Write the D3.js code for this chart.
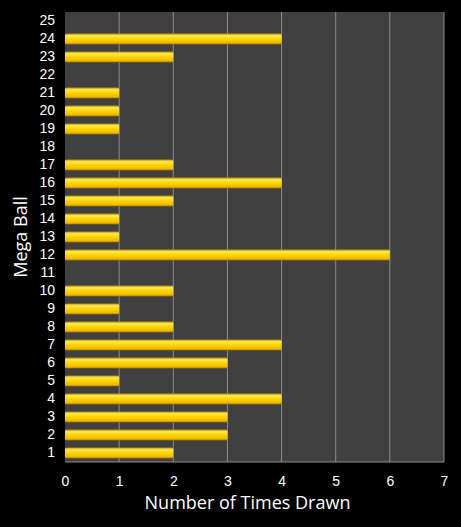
<!DOCTYPE html>
<html>
<head>
  <script src="https://d3js.org/d3.v7.min.js"></script>
  <style>
    body { margin: 0; background: #000; font-family: "Open Sans", sans-serif; }
    .tick text { fill: #fff; font-size: 14px; }
    .axis-title { fill: #fff; font-size: 18px; text-anchor: middle; }
  </style>
</head>
<body>
  <div id="chart"></div>
  <script>
    const balls = d3.range(1, 26).map(String);
    const timesDrawn = [2, 3, 3, 4, 1, 3, 4, 2, 1, 2, 0, 6, 1, 1, 2, 4, 2, 0, 1, 1, 1, 0, 2, 4, 0];
    const xTicks = [0, 1, 2, 3, 4, 5, 6, 7];

    const data = balls.map((b, i) => ({ ball: b, count: timesDrawn[i] }));

    const margin = {top: 12, right: 17, bottom: 65, left: 65};
    const W = 461, H = 527;
    const width = W - margin.left - margin.right;
    const height = H - margin.top - margin.bottom;

    const svg = d3.select("#chart").append("svg")
      .attr("width", W).attr("height", H);

    const defs = svg.append("defs");
    const grad = defs.append("linearGradient")
      .attr("id", "barGrad").attr("x1", 0).attr("x2", 0).attr("y1", 0).attr("y2", 1);
    grad.append("stop").attr("offset", "0%").attr("stop-color", "#b08a00");
    grad.append("stop").attr("offset", "20%").attr("stop-color", "#ffe85a");
    grad.append("stop").attr("offset", "45%").attr("stop-color", "#ffd800");
    grad.append("stop").attr("offset", "85%").attr("stop-color", "#f0b800");
    grad.append("stop").attr("offset", "100%").attr("stop-color", "#8a6a00");

    const g = svg.append("g").attr("transform", `translate(${margin.left},${margin.top})`);

    const x = d3.scaleLinear().domain([0, 7]).range([0, width]);
    const y = d3.scaleBand().domain(balls.slice().reverse()).range([0, height])
      .paddingInner(0.38).paddingOuter(0.19);

    // plot background
    g.append("rect").attr("width", width).attr("height", height).attr("fill", "#404040");

    // gridlines
    g.selectAll(".grid").data(xTicks.slice(1)).enter().append("line")
      .attr("x1", d => x(d)).attr("x2", d => x(d))
      .attr("y1", 0).attr("y2", height)
      .attr("stroke", "#8c8c8c").attr("stroke-width", 1);

    // bottom border
    g.append("line").attr("x1", 0).attr("x2", width).attr("y1", height).attr("y2", height)
      .attr("stroke", "#8c8c8c");

    // bars
    g.selectAll(".bar").data(data.filter(d => d.count > 0)).enter().append("rect")
      .attr("x", x(0))
      .attr("y", d => y(d.ball))
      .attr("width", d => x(d.count) - x(0))
      .attr("height", y.bandwidth())
      .attr("rx", 1.5)
      .attr("fill", "url(#barGrad)");

    // y axis
    const yAxis = g.append("g")
      .call(d3.axisLeft(y).tickSize(0).tickPadding(10));
    yAxis.select(".domain").remove();

    // x axis
    const xAxis = g.append("g")
      .attr("transform", `translate(0,${height})`)
      .call(d3.axisBottom(x).tickValues(xTicks).tickFormat(d3.format("d")).tickSize(0).tickPadding(14));
    xAxis.select(".domain").remove();

    svg.append("text").attr("class", "axis-title")
      .attr("x", margin.left + width / 2 - 7)
      .attr("y", 509)
      .text("Number of Times Drawn");

    svg.append("text").attr("class", "axis-title")
      .attr("transform", `translate(27,${margin.top + height / 2}) rotate(-90)`)
      .text("Mega Ball");
  </script>
</body>
</html>
